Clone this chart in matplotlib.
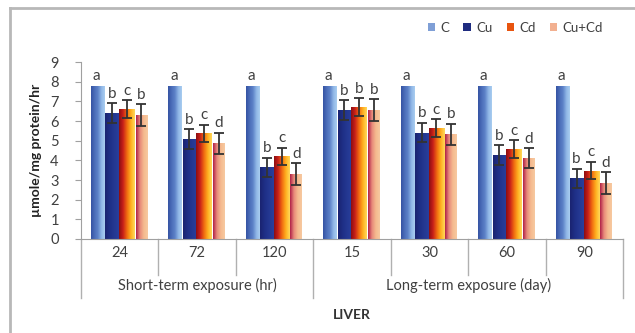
import numpy as np
import matplotlib
matplotlib.use("Agg")
import matplotlib.pyplot as plt
from matplotlib.colors import LinearSegmentedColormap
from matplotlib.lines import Line2D
from matplotlib.patches import Patch
import matplotlib.transforms as mtransforms

plt.rcParams['font.family'] = ['Lato', 'DejaVu Sans']

# ---------------- data ----------------
categories = ["24", "72", "120", "15", "30", "60", "90"]
groups = ["Short-term exposure (hr)", "Long-term exposure (day)"]
group_sizes = [3, 4]
series = ["C", "Cu", "Cd", "Cu+Cd"]
C_vals = [7.8, 7.8, 7.8, 7.8, 7.8, 7.8, 7.8]
Cu_vals = [6.42, 5.08, 3.64, 6.56, 5.41, 4.26, 3.08]
Cd_vals = [6.62, 5.37, 4.20, 6.70, 5.65, 4.59, 3.48]
CuCd_vals = [6.32, 4.86, 3.30, 6.56, 5.32, 4.12, 2.85]
Cu_err = [0.5, 0.5, 0.5, 0.5, 0.5, 0.5, 0.5]
Cd_err = [0.45, 0.45, 0.45, 0.45, 0.45, 0.45, 0.45]
CuCd_err = [0.55, 0.55, 0.55, 0.55, 0.55, 0.5, 0.55]
C_letters = ["a"] * 7
Cu_letters = ["b", "b", "b", "b", "b", "b", "b"]
Cd_letters = ["c", "c", "c", "b", "c", "c", "c"]
CuCd_letters = ["b", "d", "d", "b", "b", "d", "d"]
y_ticks = list(range(0, 10))

# ---------------- style ----------------
W, H = 635, 333
fig = plt.figure(figsize=(W / 100, H / 100), dpi=100)
fig.patch.set_facecolor("white")
ax = fig.add_axes([81 / W, 1 - 239 / H, (623 - 81) / W, (239 - 62) / H])

cmaps = {
    "C": LinearSegmentedColormap.from_list("c", ["#3553a3", "#4a6cb8", "#5d82c8", "#8fb6e6", "#a9cdf0"]),
    "Cu": LinearSegmentedColormap.from_list("cu", ["#1a2370", "#1f2f86", "#243892", "#2a3f9c"]),
    "Cd": LinearSegmentedColormap.from_list("cd", ["#8c0e12", "#c8201a", "#f06a10", "#ffb020", "#ffd95a"]),
    "Cu+Cd": LinearSegmentedColormap.from_list("cucd", ["#b02048", "#e88a7a", "#f5bb8f", "#f7c9a0"]),
}
solid = {"C": "#6a8fd0", "Cu": "#22308a", "Cd": "#e05a18", "Cu+Cd": "#f0b08a"}
legend_cols = {"C": "#7f9fd6", "Cu": "#1f2c80", "Cd": "#e8540f", "Cu+Cd": "#f2b090"}

offsets = [-0.28, -0.10, 0.09, 0.28]
widths = [0.18, 0.17, 0.20, 0.15]
values = [C_vals, Cu_vals, Cd_vals, CuCd_vals]
errs = [None, Cu_err, Cd_err, CuCd_err]
letters = [C_letters, Cu_letters, Cd_letters, CuCd_letters]

x = np.arange(len(categories))
grad = np.linspace(0, 1, 64).reshape(1, -1)

for si, name in enumerate(series):
    bars = ax.bar(x + offsets[si], values[si], width=widths[si], color=solid[name],
                  zorder=2, linewidth=0)
    for b in bars:
        x0, w, h = b.get_x(), b.get_width(), b.get_height()
        im = ax.imshow(grad, extent=[x0, x0 + w, 0, h], aspect="auto",
                       cmap=cmaps[name], zorder=2.5, interpolation="bilinear")
        im.set_clip_path(b)
    if errs[si] is not None:
        ax.errorbar(x + offsets[si], values[si], yerr=errs[si], fmt="none",
                    ecolor="#333333", elinewidth=1.3, capsize=3.5, capthick=1.3, zorder=4)
    for i in range(len(categories)):
        top = values[si][i] + (errs[si][i] if errs[si] is not None else 0)
        ax.text(x[i] + offsets[si] - (0.02 if si == 0 else 0), top + 0.12, letters[si][i],
                ha="center", va="bottom", fontsize=11, color="#404040", zorder=5)

ax.set_xlim(-0.5, len(categories) - 0.5)
ax.set_ylim(0, 9)
ax.set_yticks(y_ticks)
ax.set_yticklabels([str(t) for t in y_ticks], fontsize=10.5, color="#404040")
ax.set_xticks([])
for s in ["top", "right"]:
    ax.spines[s].set_visible(False)
ax.spines["left"].set_color("#a0a0a0")
ax.spines["bottom"].set_color("#a0a0a0")
ax.tick_params(axis="y", length=4, color="#a0a0a0", pad=12)
ax.set_ylabel("µmole/mg protein/hr", fontsize=10, fontweight="bold", color="#222222", labelpad=6)

# hierarchical category axis
trans = mtransforms.blended_transform_factory(ax.transData, ax.transAxes)
outer = [-0.5]
acc = -0.5
for gs in group_sizes:
    acc += gs
    outer.append(acc)
for b in np.arange(-0.5, len(categories), 1.0):
    is_outer = any(abs(b - o) < 1e-9 for o in outer)
    ax.add_line(Line2D([b, b], [0, -0.335 if is_outer else -0.205], transform=trans,
                       color="#b0b0b0", lw=1, clip_on=False))
for i, c in enumerate(categories):
    ax.text(x[i], -0.08, c, transform=trans, ha="center", va="center", fontsize=10.5, color="#404040")
start = -0.5
for g, gs in zip(groups, group_sizes):
    ax.text(start + gs / 2, -0.262, g, transform=trans, ha="center", va="center",
            fontsize=10.5, color="#404040")
    start += gs
fig.text(352 / W, 1 - 315 / H, "LIVER", ha="center", va="center", fontsize=10,
         fontweight="bold", color="#333333")

# legend
handles = [Patch(facecolor=legend_cols[n], edgecolor="none") for n in series]
fig.legend(handles, series, loc="center right", bbox_to_anchor=(615 / W, 1 - 28 / H), ncol=4,
           frameon=False, fontsize=9.5, handlelength=0.55, handleheight=0.55,
           handletextpad=0.4, columnspacing=1.1, labelcolor="#404040")

# outer frame of chart area
fig.add_artist(Line2D([10 / W, 10 / W], [0, 1 - 8 / H], color="#b8b8b8", lw=2, transform=fig.transFigure))
fig.add_artist(Line2D([10 / W, 1], [1 - 8 / H, 1 - 8 / H], color="#b8b8b8", lw=2, transform=fig.transFigure))

fig.savefig("out.png", dpi=100, facecolor="white")
